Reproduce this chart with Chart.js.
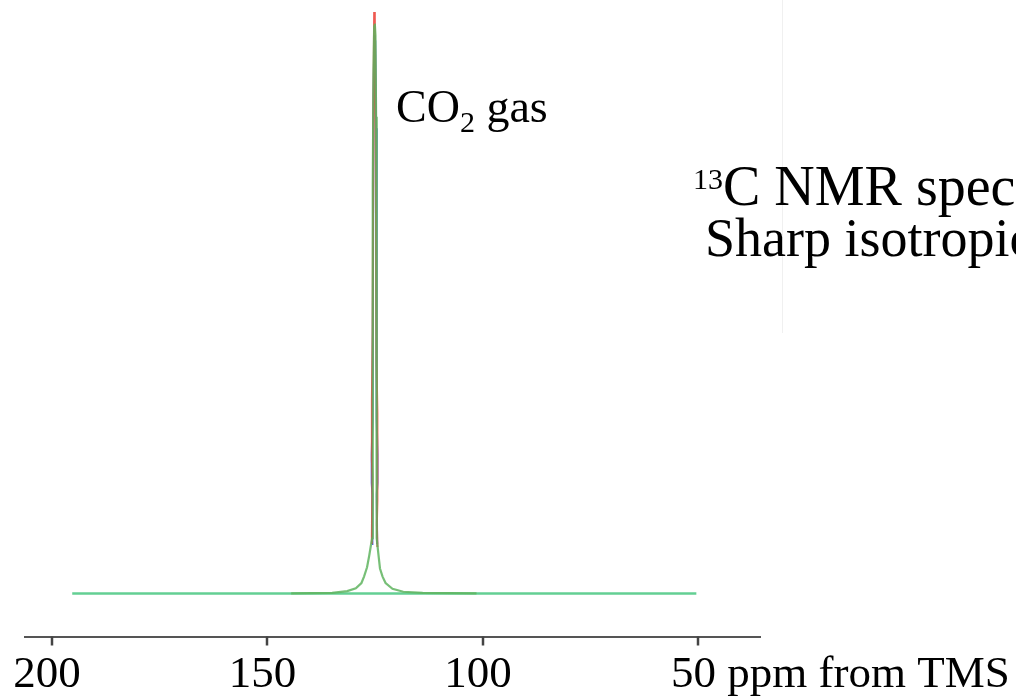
<!DOCTYPE html>
<html>
<head>
<meta charset="utf-8">
<script src="https://cdn.jsdelivr.net/npm/chart.js@4/dist/chart.umd.min.js"></script>
<style>
  html, body { margin: 0; padding: 0; background: #fff; }
  #wrap { width: 1016px; height: 698px; position: relative; }
</style>
</head>
<body>
<div id="wrap"><canvas id="c"></canvas></div>
<script>
// 13C NMR spectrum of CO2 gas (chemical shift in ppm, relative intensity)

// axis ticks (ppm)
const tickValues = [200, 150, 100, 50];

// full flat baseline of the acquisition window
const baselinePpm = [195.3, 50.5];
const baselineInt = [0, 0];

// main trace around the CO2 resonance
const mainPpm = [144.5, 135.0, 131.5, 129.5, 128.2, 127.6, 126.9, 126.4, 126.0, 125.7, 125.6, 125.55, 125.4, 125.25, 125.1, 124.95, 124.8, 124.7, 124.62, 124.3, 123.9, 123.3, 122.6, 121.0, 118.5, 114.0, 101.5];
const mainInt = [0, 0.1, 0.4, 0.9, 1.8, 2.9, 4.5, 6.5, 8.3, 9.5, 38, 70, 90, 97.5, 98, 96, 82, 40, 9.5, 7.0, 4.3, 2.9, 1.8, 0.8, 0.3, 0.1, 0];

// overlaid repeat scans (slightly taller / shifted)
const scan2Ppm = [125.8, 125.66, 125.78, 125.78, 125.6, 125.45, 125.25, 125.1, 124.9, 124.7, 124.5, 124.5, 124.62, 124.5];
const scan2Int = [8.5, 20, 23, 33, 45, 80, 100, 99, 80, 40, 31, 16, 12, 8.0];
const scan3Ppm = [125.75, 125.66, 125.82, 125.82, 125.62, 125.4, 125.2, 125.0, 124.8, 124.66, 124.48, 124.48, 124.64, 124.55];
const scan3Int = [8.5, 17, 19, 24, 30, 85, 96, 95, 80, 30, 24, 19, 17, 8.5];

const toXY = (xs, ys) => xs.map((x, i) => ({ x: x, y: ys[i] }));

const serif = '"Liberation Serif", "Times New Roman", serif';
const tickFontSize = 45;

// annotations and tick marks drawn on top of the plot
const textPlugin = {
  id: 'spectrumText',
  afterDraw(chart) {
    const ctx = chart.ctx;
    const xs = chart.scales.x;
    const axisY = chart.chartArea.bottom;
    ctx.save();

    // tick marks below the axis line
    ctx.strokeStyle = '#444';
    ctx.lineWidth = 2.5;
    tickValues.forEach(v => {
      const px = Math.round(xs.getPixelForValue(v));
      ctx.beginPath();
      ctx.moveTo(px, axisY);
      ctx.lineTo(px, axisY + 9);
      ctx.stroke();
    });

    ctx.fillStyle = '#000';
    ctx.textBaseline = 'alphabetic';
    ctx.textAlign = 'left';

    // peak label: CO2 gas
    let x = 396;
    ctx.font = '46px ' + serif;
    ctx.fillText('CO', x, 122);
    x += ctx.measureText('CO').width;
    ctx.font = '30px ' + serif;
    ctx.fillText('2', x, 132);
    x += ctx.measureText('2').width;
    ctx.font = '46px ' + serif;
    ctx.fillText(' gas', x, 122);

    // side caption
    x = 693;
    ctx.font = '30px ' + serif;
    ctx.fillText('13', x, 189);
    x += ctx.measureText('13').width;
    ctx.font = '56px ' + serif;
    ctx.fillText('C NMR spectrum', x, 205);
    ctx.font = '54px ' + serif;
    ctx.fillText('Sharp isotropic peak', 705, 256);

    // unit after the last tick label
    const items = xs.getLabelItems();
    const last = items.find(it => it.label === '50');
    if (last) {
      const o = last.options;
      ctx.font = tickFontSize + 'px ' + serif;
      ctx.textBaseline = 'middle';
      const w = ctx.measureText('50').width;
      ctx.fillText(' ppm from TMS', o.translation[0] + w / 2, o.translation[1] + tickFontSize * 1.2 / 2);
    }

    // faint frame edge of the caption box
    ctx.strokeStyle = 'rgba(0,0,0,0.06)';
    ctx.lineWidth = 1;
    ctx.beginPath();
    ctx.moveTo(782.5, 0);
    ctx.lineTo(782.5, 333);
    ctx.stroke();
    ctx.restore();
  }
};

new Chart(document.getElementById('c'), {
  type: 'line',
  data: {
    datasets: [
      {
        label: 'scan 1',
        data: toXY(mainPpm, mainInt),
        borderColor: 'rgba(95,180,95,0.85)',
        borderWidth: 2.2,
        pointRadius: 0,
        tension: 0
      },
      {
        label: 'scan 2',
        data: toXY(scan2Ppm, scan2Int),
        borderColor: 'rgba(235,60,50,0.85)',
        borderWidth: 2,
        pointRadius: 0,
        tension: 0
      },
      {
        label: 'scan 3',
        data: toXY(scan3Ppm, scan3Int),
        borderColor: 'rgba(40,70,220,0.85)',
        borderWidth: 2,
        pointRadius: 0,
        tension: 0
      },
      {
        label: 'baseline',
        data: toXY(baselinePpm, baselineInt),
        borderColor: '#63cf93',
        borderWidth: 2.5,
        pointRadius: 0,
        tension: 0
      }
    ]
  },
  options: {
    responsive: true,
    maintainAspectRatio: false,
    animation: false,
    events: [],
    clip: false,
    layout: { padding: { left: 25, right: 256, top: 12, bottom: 0 } },
    plugins: { legend: { display: false }, tooltip: { enabled: false } },
    scales: {
      x: {
        type: 'linear',
        reverse: true,
        min: 35.73,
        max: 206.26,
        afterBuildTicks(scale) {
          scale.ticks = tickValues.map(v => ({ value: v }));
        },
        afterFit(scale) { scale.height = 61.5; },
        border: { display: true, color: '#555', width: 2 },
        grid: { drawOnChartArea: false, drawTicks: true, tickLength: 8, color: '#444', lineWidth: 2 },
        ticks: {
          autoSkip: false,
          maxRotation: 0,
          padding: 4,
          labelOffset: -5,
          color: '#000',
          font: { family: serif, size: tickFontSize },
          callback: v => String(v)
        }
      },
      y: {
        display: false,
        min: -7.4,
        max: 100
      }
    }
  },
  plugins: [textPlugin]
});
</script>
</body>
</html>
